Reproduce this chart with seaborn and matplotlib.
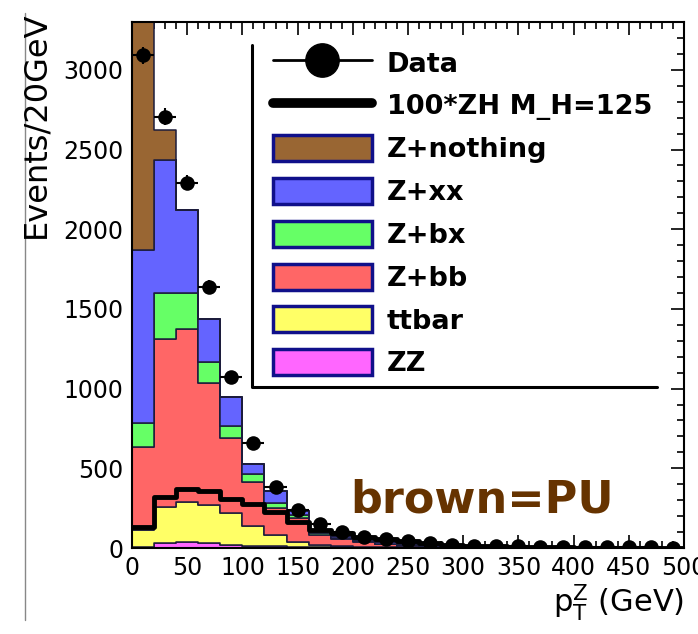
import numpy as np
import pandas as pd
import matplotlib
matplotlib.use("Agg")
import matplotlib.pyplot as plt
from matplotlib.lines import Line2D
from matplotlib.patches import Patch
from matplotlib.ticker import MultipleLocator
import seaborn as sns

# ---------------- data ----------------
bin_edges = list(range(0, 520, 20))  # 25 bins of 20 GeV
processes = ["Z+nothing", "Z+xx", "Z+bx", "Z+bb", "ttbar", "ZZ"]
colors = ["#996633", "#6464ff", "#66ff66", "#ff6666", "#ffff66", "#ff66ff"]

z_nothing = [1580, 188, 0, 0, 0, 0, 0, 0, 0, 0, 0, 0, 0, 0, 0, 0, 0, 0, 0, 0, 0, 0, 0, 0, 0]
z_xx = [1085, 835, 521, 269, 182, 62, 75, 25, 18, 13, 10, 7, 7, 6, 4, 4, 3, 3, 2, 2, 1, 1, 1, 1, 1]
z_bx = [151, 289, 226, 132, 76, 51, 33, 19, 13, 7, 4, 3, 2, 1, 1, 0, 0, 0, 0, 0, 0, 0, 0, 0, 0]
z_bb = [519, 1055, 1086, 766, 470, 279, 170, 150, 62, 43, 30, 20, 12, 5, 3, 2, 1, 1, 0, 0, 0, 0, 0, 0, 0]
ttbar = [107, 226, 251, 240, 200, 120, 70, 30, 14, 7, 4, 2, 1, 1, 1, 0, 0, 0, 0, 0, 0, 0, 0, 0, 0]
zz = [8, 31, 38, 30, 20, 15, 10, 8, 6, 5, 4, 3, 2, 2, 1, 1, 0, 0, 0, 0, 0, 0, 0, 0, 0]

signal_zh100 = [130, 320, 370, 358, 308, 276, 226, 163, 113, 94, 69, 56, 44, 31, 20, 14, 10, 7, 5, 4, 3, 2, 2, 1, 1]
data_counts = [3090, 2706, 2291, 1638, 1074, 659, 383, 239, 150, 100, 69, 56, 44, 31, 18, 14, 12, 10, 9, 7, 6, 5, 4, 4, 3]

x_ticks = list(range(0, 550, 50))
y_ticks = list(range(0, 3500, 500))

# ---------------- build tables ----------------
edges = np.array(bin_edges, dtype=float)
centers = 0.5 * (edges[:-1] + edges[1:])
half_w = 0.5 * (edges[1:] - edges[:-1])
series = [z_nothing, z_xx, z_bx, z_bb, ttbar, zz]
bkg = pd.DataFrame({
    "pt": np.tile(centers, len(processes)),
    "w": np.concatenate([np.array(s, float) for s in series]),
    "process": np.repeat(processes, len(centers)),
})
sig = pd.DataFrame({"pt": centers, "w": np.array(signal_zh100, float)})
dat = pd.DataFrame({"pt": centers, "n": np.array(data_counts, float)})

# ---------------- figure ----------------
sns.set_style("ticks")
plt.rcParams["font.family"] = ["DejaVu Sans"]
plt.rcParams["text.color"] = "black"
plt.rcParams["axes.labelcolor"] = "black"
plt.rcParams["xtick.color"] = "black"
plt.rcParams["ytick.color"] = "black"
W, H = 698, 634
fig = plt.figure(figsize=(W / 100, H / 100), dpi=100)
fig.subplots_adjust(left=132 / W, right=684 / W, bottom=1 - 548 / H, top=1 - 22 / H)
ax = fig.add_subplot(111)

sns.histplot(data=bkg, x="pt", weights="w", hue="process", hue_order=processes,
             palette=colors, bins=bin_edges, multiple="stack", element="step",
             fill=True, alpha=1.0, edgecolor="#1c1c3c", linewidth=1.1,
             legend=False, ax=ax)

sns.histplot(data=sig, x="pt", weights="w", bins=bin_edges, element="step",
             fill=False, color="black", linewidth=3.5, ax=ax)

ax.errorbar(dat["pt"], dat["n"], xerr=half_w, yerr=np.sqrt(dat["n"]),
            fmt="none", ecolor="black", elinewidth=1.5, capsize=0, zorder=5)
sns.scatterplot(data=dat, x="pt", y="n", color="black", s=110,
                edgecolor="black", linewidth=0, zorder=6, ax=ax)

ax.set_xlim(0, 500)
ax.set_ylim(0, 3300)
ax.set_xticks(x_ticks)
ax.set_yticks(y_ticks)
ax.set_xticklabels([str(t) for t in x_ticks])
ax.set_yticklabels([str(t) for t in y_ticks])
ax.xaxis.set_minor_locator(MultipleLocator(10))
ax.yaxis.set_minor_locator(MultipleLocator(100))
ax.tick_params(which="both", direction="in", top=True, right=True, width=1.2,
               colors="black", labelcolor="black")
ax.tick_params(which="major", length=9.5, labelsize=17)
ax.tick_params(which="minor", length=5)
ax.tick_params(axis="y", pad=6)
ax.tick_params(axis="x", pad=6)
for sp in ax.spines.values():
    sp.set_visible(True)
    sp.set_linewidth(1.5)
    sp.set_color("black")

ax.set_xlabel(r"p$_\mathregular{T}^\mathregular{Z}$ (GeV)", fontsize=22, loc="right",
              labelpad=1, color="black")
ax.set_ylabel("")
fig.text(36 / W, 1 - 11 / H, "Events/20GeV", rotation=90, ha="center", va="top",
         fontsize=23, color="black")

# ---------------- legend ----------------
handles = [
    Line2D([0], [0], color="black", lw=2, marker="o", markersize=24),
    Line2D([0], [0], color="black", lw=7),
]
for c in colors:
    handles.append(Patch(facecolor=c, edgecolor="#10108a", linewidth=2.5))
labels = ["Data", "100*ZH M_H=125"] + processes
leg = ax.legend(handles, labels, loc="upper left", bbox_to_anchor=(0.255, 0.948),
                frameon=False, prop={"weight": "bold", "size": 19.5},
                handlelength=3.65, handleheight=1.1, handletextpad=0.55,
                labelspacing=0.54, borderpad=0, borderaxespad=0)
for t in leg.get_texts():
    t.set_color("black")
# legend box border (left and bottom edges as in the reference)
ax.plot([0.2174, 0.2174, 0.951], [0.956, 0.306, 0.306], color="black", lw=2.2,
        transform=ax.transAxes, clip_on=False, zorder=7)

ax.text(0.395, 0.068, "brown=PU", transform=ax.transAxes, fontsize=32,
        fontweight="bold", color="#663300", ha="left", va="baseline", zorder=8)

fig.add_artist(Line2D([25 / W, 25 / W], [1 - 13 / H, 1 - 620 / H], color="#888888", lw=1))

fig.savefig("out.png", dpi=100)
